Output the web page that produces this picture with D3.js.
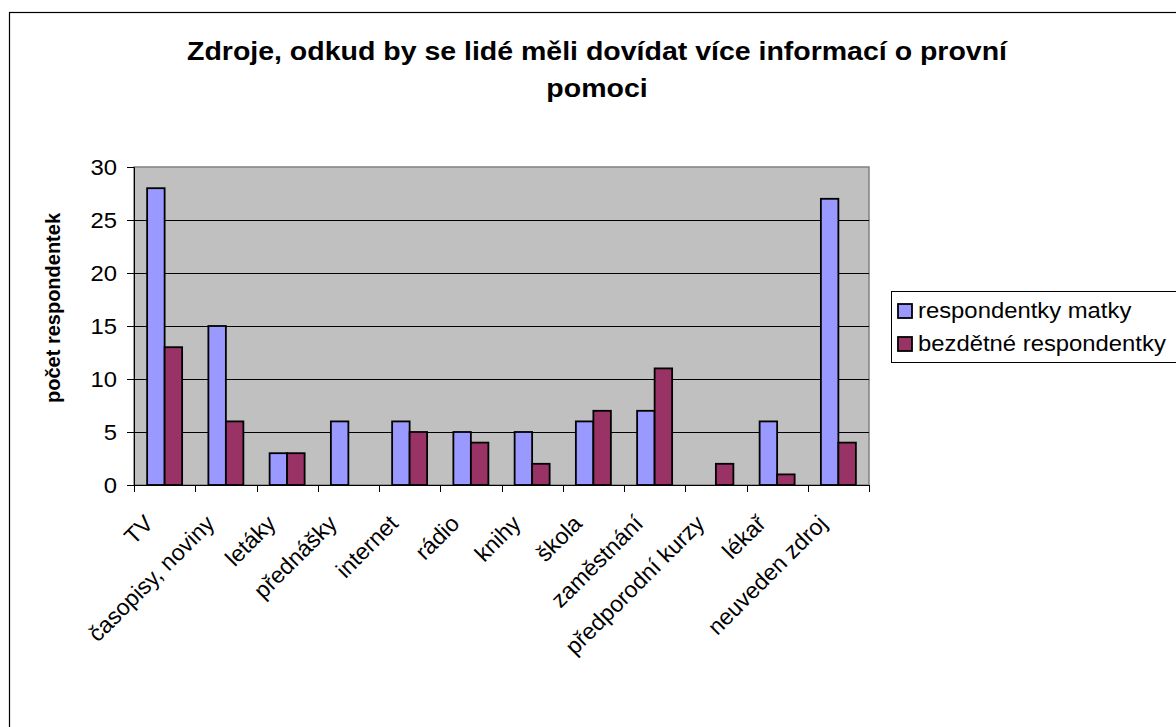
<!DOCTYPE html>
<html><head><meta charset="utf-8">
<script src="https://cdn.jsdelivr.net/npm/d3@7/dist/d3.min.js"></script>
<style>body{margin:0;background:#fff}svg{display:block;font-family:"Liberation Sans",Arial,sans-serif}</style>
</head><body><svg id="c" width="1176" height="727"></svg>
<script>
const categories = ["TV","časopisy, noviny","letáky","přednášky","internet","rádio","knihy","škola","zaměstnání","předporodní kurzy","lékař","neuveden zdroj"];
const seriesNames = ["respondentky matky","bezdětné respondentky"];
const matky = [28,15,3,6,6,5,5,6,7,0,6,27];
const bezdetne = [13,6,3,0,5,4,2,7,11,2,1,4];
const yTicks = [0,5,10,15,20,25,30];
const colors = ["#9999FF","#993366"];

const FS = 22.5, SX = 1.06;
const svg = d3.select("#c");
svg.append("rect").attr("x",9.5).attr("y",12.5).attr("width",1200).attr("height",800)
  .attr("fill","#fff").attr("stroke","#000").attr("stroke-width",1.2);

const L=134,R=869,T=167,B=485;
const x = d3.scaleBand().domain(categories).range([L,R]).paddingInner(0).paddingOuter(0);
const inner = d3.scaleBand().domain([0,1]).range([0,35]);
const y = d3.scaleLinear().domain([0,30]).range([B,T]);

svg.append("rect").attr("x",L).attr("y",T).attr("width",R-L).attr("height",B-T)
  .attr("fill","#C0C0C0").attr("stroke","#808080").attr("stroke-width",1.5);

svg.append("g").selectAll("line").data(yTicks.filter(d=>d>0&&d<30)).join("line")
  .attr("x1",L).attr("x2",R).attr("y1",d=>Math.round(y(d))+0.5).attr("y2",d=>Math.round(y(d))+0.5)
  .attr("stroke","#000").attr("stroke-width",1);

const data = categories.map((c,i)=>({c, v:[matky[i],bezdetne[i]]}));
const g = svg.append("g");
data.forEach(d=>{
  const off = x(d.c) + (x.bandwidth()-35)/2;
  d.v.forEach((v,j)=>{
    if(v<=0) return;
    g.append("rect").attr("x",off+inner(j)).attr("y",y(v)).attr("width",inner.bandwidth())
     .attr("height",B-y(v)).attr("fill",colors[j]).attr("stroke","#000").attr("stroke-width",1.8);
  });
});

const ya = d3.axisLeft(y).tickValues(yTicks).tickSize(7).tickFormat("");
const yg = svg.append("g").attr("transform",`translate(${L},0)`).call(ya);
yg.select(".domain").attr("stroke","#000");
yg.selectAll(".tick line").attr("stroke","#000");
svg.append("g").selectAll("text").data(yTicks).join("text")
  .attr("transform",d=>`translate(117,${y(d)}) scale(${SX},1)`)
  .attr("text-anchor","end").attr("dy","0.36em").attr("font-size",FS).text(d=>d);

svg.append("line").attr("x1",L).attr("x2",R).attr("y1",B+0.5).attr("y2",B+0.5).attr("stroke","#000");
const edges = categories.map(c=>x(c)).concat([R]);
svg.append("g").selectAll("line").data(edges).join("line")
  .attr("x1",d=>Math.round(d)+0.5).attr("x2",d=>Math.round(d)+0.5).attr("y1",B).attr("y2",B+7).attr("stroke","#000");

svg.append("g").selectAll("text").data(categories).join("text")
  .attr("transform",d=>`translate(${x(d)+x.bandwidth()/2-10},${B+40}) rotate(-45)`)
  .attr("text-anchor","end").attr("font-size",23).text(d=>d);

[["Zdroje, odkud by se lidé měli dovídat více informací o provní",60],["pomoci",97]].forEach(([t,yy])=>{
  svg.append("text").attr("transform",`translate(597,${yy}) scale(1.14,1)`).attr("text-anchor","middle")
    .attr("font-weight","bold").attr("font-size",25).text(t);
});

svg.append("text").attr("transform",`translate(60,308) rotate(-90)`).attr("text-anchor","middle")
  .attr("font-weight","bold").attr("font-size",20).text("počet respondentek");

const lg = svg.append("g");
lg.append("rect").attr("x",891.5).attr("y",291.5).attr("width",300).attr("height",71).attr("fill","#fff").attr("stroke","#000");
seriesNames.forEach((s,i)=>{
  lg.append("rect").attr("x",898).attr("y",304+i*33).attr("width",14).attr("height",14).attr("fill",colors[i]).attr("stroke","#000").attr("stroke-width",1.8);
  lg.append("text").attr("transform",`translate(918,${318+i*33}) scale(${SX},1)`).attr("font-size",FS).text(s);
});
</script></body></html>
